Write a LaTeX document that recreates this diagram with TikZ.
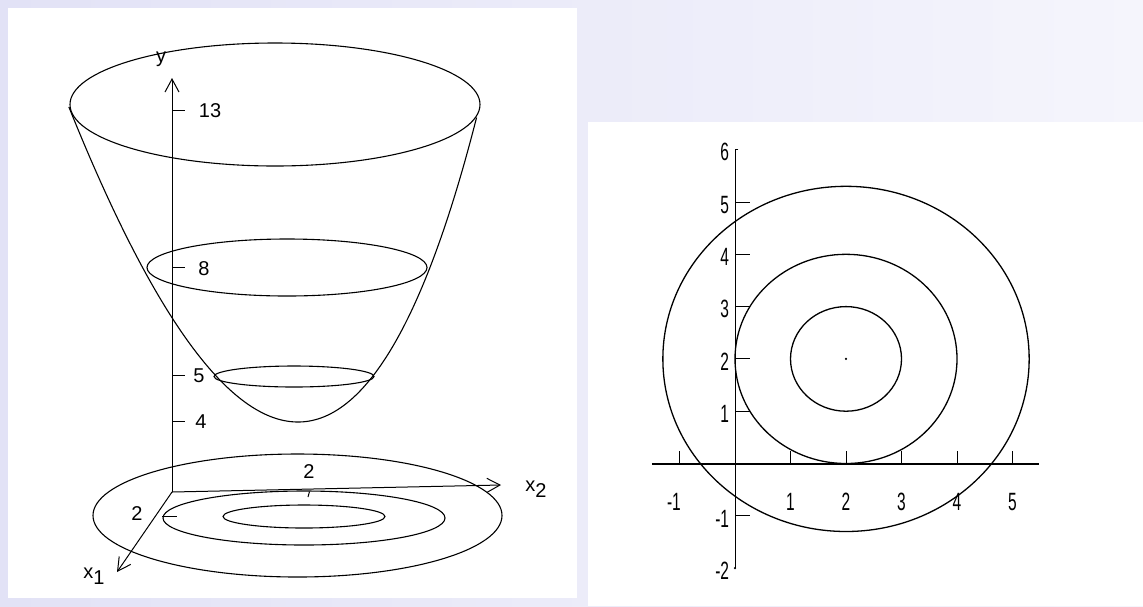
\documentclass[tikz,border=0pt]{standalone}
\usepackage{fontspec}
\setsansfont{Liberation Sans}
\usetikzlibrary{arrows.meta}

\definecolor{bgleft}{RGB}{226,226,246}
\definecolor{bgright}{RGB}{245,245,252}

% narrow plotter-like digits
\newcommand{\plotnum}[1]{\scalebox{0.62}[1]{#1}}

\begin{document}
\begin{tikzpicture}[
  x=0.5pt, y=-0.5pt,
  curve/.style={line width=0.55pt},
  ax/.style={line width=0.5pt},
  barb/.style={-{Straight Barb[length=6.5pt,width=7pt]}, line width=0.5pt},
  lbl/.style={font=\sffamily\fontsize{10}{12}\selectfont, inner sep=0pt},
  plotlbl/.style={font=\sffamily\fontsize{12.5}{14}\selectfont, inner sep=0pt},
  ring/.style={line width=0.65pt}
]
\shade[left color=bgleft, right color=bgright] (0,0) rectangle (1143,606);
\useasboundingbox (0,0) rectangle (1143,606);
\fill[white] (8,8) rectangle (577,598);
\fill[white] (588,122) rectangle (1143,606);

%% left: paraboloid with its levels
\draw[curve] (275,104.5) ellipse [x radius=205, y radius=61.5];
\draw[curve] (287,267.5) ellipse [x radius=140, y radius=28.5];
\draw[curve] (294,376.5) ellipse [x radius=80, y radius=10.5];
\draw[curve] plot[domain=-17.75:17.45, samples=90, variable=\t, smooth]
  ({298+11.56*\t-0.076*\t*\t},{422-\t*\t});

\coordinate (O) at (172,492);
\coordinate (ytip) at (172,78);
\coordinate (xonetip) at (117,572);
\coordinate (xtwotip) at (501,485);
\draw[barb] (O) -- (ytip);
\draw[barb] (O) -- (xtwotip);
\draw[barb] (O) -- (xonetip);
\node[lbl] (ylab) at (161,59) {y};
\node[lbl] (xtwolab) at (536,489) {x\raisebox{-0.55ex}{2}};
\node[lbl] (xonelab) at (94,576) {x\raisebox{-0.55ex}{1}};

\foreach \yy/\val/\lx in {110/13/210, 267.5/8/204, 375/5/199, 421/4/201}{
  \draw[ax] (172,\yy) -- (185,\yy);
  \node[lbl] (lev\val) at (\lx,\yy+1) {\val};
}

% level curves on the floor
\draw[curve] (297.5,515.5) ellipse [x radius=204.5, y radius=61.5];
\draw[curve] (304,518) ellipse [x radius=141, y radius=27];
\draw[curve] (304,516.5) ellipse [x radius=81, y radius=11.5];
\draw[ax] (309.5,491.5) -- (308,497);
\node[lbl] (twoA) at (309,472) {2};
\draw[ax] (162,516) -- (177,516);
\node[lbl] (twoB) at (137,514) {2};

%% right: contour plot
\begin{scope}[shift={(735,463.5)}, x=27.75pt, y=26.15pt]
\draw[line width=1pt] (-1.5,0) -- (5.48,0);
\draw[ax] (0.06,6) -- (0,6) -- (0,-2);
\fill (0,-2) circle[radius=0.6pt];
\foreach \k/\n/\dx in {-1/m1/-0.1, 1/p1/0, 2/p2/0, 3/p3/0, 4/p4/0, 5/p5/0}{
  \draw[ax] (\k,0) -- (\k,0.23);
  \node[plotlbl] (xl\n) at ({\k+\dx},-0.74) {\plotnum{\k}};
}
\foreach \k in {-1,1,2,3,4,5}{
  \draw[ax] (0,\k) -- (0.27,\k);
}
\foreach \k/\n in {-2/m2, -1/m1, 1/p1, 2/p2, 3/p3, 4/p4, 5/p5, 6/p6}{
  \node[plotlbl, anchor=east] (yl\n) at (-0.1,{\k-0.05}) {\plotnum{\k}};
}
\draw[ring] (2,2) circle [radius=3.3];
\draw[ring] (2,2) circle [radius=2];
\draw[ring] (2,2) circle [radius=1];
\fill (2,2) circle [radius=0.6pt];
\end{scope}
\end{tikzpicture}
\end{document}
